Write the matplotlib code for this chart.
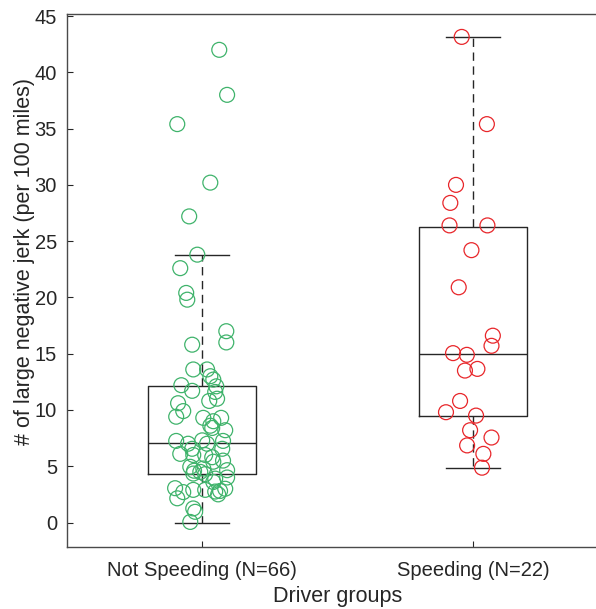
import numpy as np
import matplotlib
matplotlib.use('Agg')
import matplotlib.pyplot as plt

plt.rcParams['font.family'] = ['Liberation Sans', 'DejaVu Sans']

# ------------------------------------------------------------
# data
# ------------------------------------------------------------

GROUPS = ["Not Speeding (N=66)", "Speeding (N=22)"]

not_speeding = [
    42.0, 38.0, 35.4, 30.2, 27.2, 23.8, 22.6, 20.4, 19.8, 17.0,
    16.0, 15.8, 13.6, 13.6, 13.0, 12.7, 12.2, 12.1, 11.7, 11.6,
    11.0, 10.8, 10.6, 9.9, 9.4, 9.3, 9.0, 9.3, 8.4, 8.2,
    7.25, 7.0, 6.55, 7.0, 7.25, 6.55, 6.1, 6.0, 6.0, 5.8,
    5.5, 4.95, 4.8, 4.6, 4.35, 4.5, 3.9, 4.65, 3.05, 2.7,
    2.9, 2.9, 2.75, 2.8, 3.0, 2.15, 1.25, 0.95, 0.05, 4.3,
    3.6, 5.4, 8.6, 4.0, 2.5, 7.3,
]
not_speeding_jitter = [
    0.063, 0.092, -0.092, 0.030, -0.048, -0.018, -0.081, -0.059, -0.055, 0.089,
    0.089, -0.037, -0.033, 0.018, 0.030, 0.041, -0.077, 0.052, -0.037, 0.048,
    0.055, 0.026, -0.089, -0.070, -0.096, 0.004, 0.041, 0.070, 0.037, 0.085,
    -0.096, -0.052, -0.037, 0.018, 0.077, 0.074, -0.081, -0.033, 0.011, 0.037,
    0.077, -0.044, 0.004, -0.030, -0.033, -0.007, 0.048, 0.092, -0.100, -0.070,
    -0.033, 0.011, 0.048, 0.066, 0.085, -0.092, -0.033, -0.026, -0.044, 0.011,
    0.041, 0.041, 0.030, 0.092, 0.059, 0.000,
]

speeding = [
    43.15, 35.4, 30.0, 28.4, 26.4, 26.4, 24.2, 20.9, 16.6, 15.7,
    15.05, 14.9, 13.5, 13.65, 10.8, 9.8, 9.5, 8.2, 7.55, 6.85,
    6.1, 4.87,
]
speeding_jitter = [
    -0.042, 0.051, -0.063, -0.084, -0.087, 0.053, -0.006, -0.053, 0.073, 0.068,
    -0.074, -0.023, -0.030, 0.016, -0.048, -0.100, 0.011, -0.011, 0.068, -0.022,
    0.038, 0.033,
]

# box summary per group: lower whisker, q1, median, q3, upper whisker
whisker_low = [0.0, 4.87]
q1 = [4.34, 9.47]
median = [7.04, 14.96]
q3 = [12.17, 26.3]
whisker_high = [23.75, 43.1]

GREEN = "#3fb36b"
RED = "#e8262a"
INK = "#262626"

# ------------------------------------------------------------
# plot
# ------------------------------------------------------------

fig = plt.figure(figsize=(5.96, 6.09), dpi=100)
# axes runs a little past the right edge of the canvas
ax = fig.add_axes([0.112, 0.1023, 0.909, 0.875])

stats = []
for i in range(len(GROUPS)):
    stats.append(dict(whislo=whisker_low[i], q1=q1[i], med=median[i],
                      q3=q3[i], whishi=whisker_high[i], fliers=[]))

ax.bxp(
    stats, positions=[1, 2], widths=0.4, showfliers=False,
    boxprops=dict(color=INK, linewidth=1.0),
    medianprops=dict(color=INK, linewidth=1.0),
    whiskerprops=dict(color=INK, linewidth=1.0, linestyle=(0, (6, 4))),
    capprops=dict(color=INK, linewidth=1.0),
    capwidths=0.2,
    zorder=2,
)

ax.scatter(1 + np.array(not_speeding_jitter), not_speeding,
           s=115, facecolors="none", edgecolors=GREEN, linewidths=0.9, zorder=3)
ax.scatter(2 + np.array(speeding_jitter), speeding,
           s=115, facecolors="none", edgecolors=RED, linewidths=0.9, zorder=3)

ax.set_xlim(0.5, 2.5)
ax.set_ylim(-2.15, 45.2)
ax.set_xticks([1, 2])
ax.set_xticklabels(GROUPS)
ax.set_yticks(np.arange(0, 46, 5))

ax.tick_params(direction="in", length=4, width=0.8, colors=INK,
               labelsize=14.5)
ax.tick_params(axis="y", pad=7)
ax.tick_params(axis="x", pad=10)
for spine in ax.spines.values():
    spine.set_color("#4a4a4a")
    spine.set_linewidth(1.0)

ax.set_xlabel("Driver groups", fontsize=15.5, color=INK)
ax.set_ylabel("# of large negative jerk (per 100 miles)", fontsize=15.5,
              color=INK)
ax.xaxis.set_label_coords(0.5, -0.074)
ax.yaxis.set_label_coords(-0.058, 0.535)

fig.savefig("out.png", dpi=100, facecolor="white")
plt.close(fig)
